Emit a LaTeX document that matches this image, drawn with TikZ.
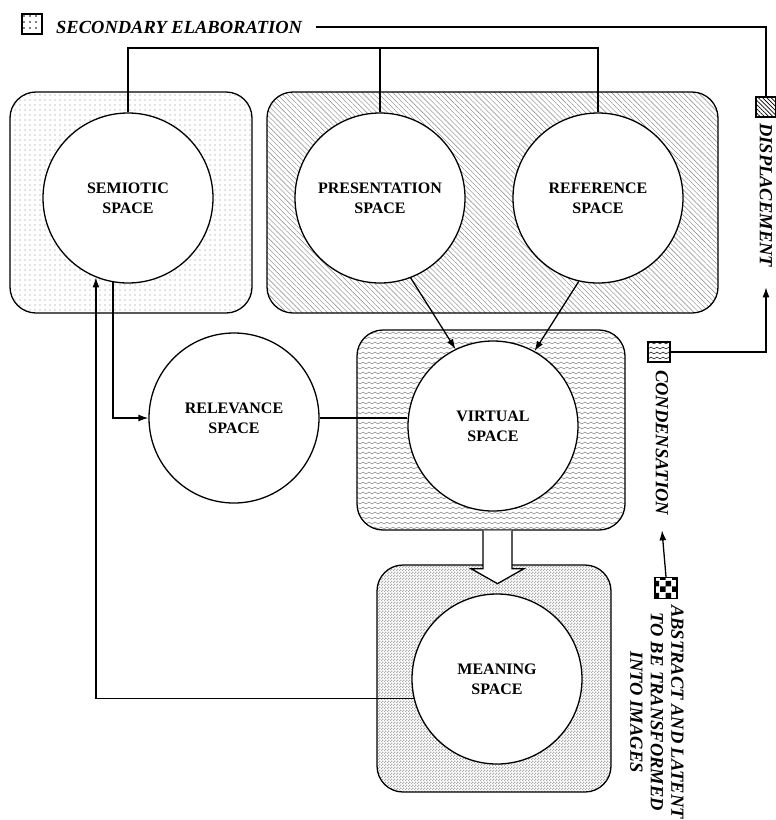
\documentclass[tikz,border=0pt]{standalone}
\usepackage{fontspec}
\setmainfont{Liberation Serif}
\usepackage{tikz}
\usetikzlibrary{arrows.meta}
\usetikzlibrary{patterns, patterns.meta, positioning}
\usetikzlibrary{calc}

% wavy fill for the condensation boxes
\pgfdeclarepatternformonly{waves}{\pgfqpoint{-1pt}{-1pt}}{\pgfqpoint{7pt}{6pt}}{\pgfqpoint{6pt}{5pt}}{
    \pgfsetlinewidth{0.45pt}
    \pgfpathmoveto{\pgfqpoint{0pt}{1pt}}
    \pgfpathcurveto{\pgfqpoint{1pt}{1pt}}{\pgfqpoint{2pt}{3pt}}{\pgfqpoint{3pt}{3pt}}
    \pgfpathcurveto{\pgfqpoint{4pt}{3pt}}{\pgfqpoint{5pt}{1pt}}{\pgfqpoint{6pt}{1pt}}
    \pgfusepath{stroke}
}
% fine checker for the meaning box
\pgfdeclarepatternformonly{finechecker}{\pgfpointorigin}{\pgfqpoint{3pt}{3pt}}{\pgfqpoint{3pt}{3pt}}{
    \pgfpathrectangle{\pgfpointorigin}{\pgfqpoint{1.5pt}{1.5pt}}
    \pgfpathrectangle{\pgfqpoint{1.5pt}{1.5pt}}{\pgfqpoint{1.5pt}{1.5pt}}
    \pgfusepath{fill}
}

\begin{document}
\begin{tikzpicture}[x=1pt,y=-1pt,
    space/.style={draw, circle, fill=white, line width=1.3pt, minimum size=170pt, inner sep=0pt, align=center, font=\bfseries\fontsize{16}{20}\selectfont},
    panel/.style={draw, rounded corners=26pt, line width=1.3pt, inner sep=0pt},
    legendbox/.style={draw, line width=1.2pt, minimum width=20pt, minimum height=20pt, inner sep=0pt},
    tag/.style={font=\bfseries\itshape\fontsize{18.5}{20.5}\selectfont, inner sep=0pt},
    link/.style={line width=1.3pt},
    arr/.style={-{Latex[length=10pt,width=7pt]}, line width=1.3pt}]

    \useasboundingbox (0,0) rectangle (776,820);

    % Panels behind the spaces
    \node[panel, pattern={Dots[distance=5pt,radius=0.55pt]}, pattern color=gray, minimum width=242pt, minimum height=221pt] (sembox) at (131,202.5) {};
    \node[panel, pattern={Lines[angle=-45,distance=3.6pt,line width=0.4pt]}, pattern color=gray, minimum width=451pt, minimum height=221pt] (prbox) at (492.5,202.5) {};
    \node[panel, pattern=waves, pattern color=gray, minimum width=268pt, minimum height=200pt] (virtbox) at (491,430) {};
    \node[panel, pattern=finechecker, pattern color=gray!65, minimum width=234pt, minimum height=227pt] (meanbox) at (494,678.5) {};

    % Spaces
    \node[space] (sem) at (128,198) {SEMIOTIC\\SPACE};
    \node[space] (pres) at (380,198) {PRESENTATION\\SPACE};
    \node[space] (ref) at (598,198) {REFERENCE\\SPACE};
    \node[space] (rel) at (234,418) {RELEVANCE\\SPACE};
    \node[space] (virt) at (493,426) {VIRTUAL\\SPACE};
    \node[space] (mean) at (497,679) {MEANING\\SPACE};

    % Bracket over the top spaces
    \coordinate (topbar) at (0,48);
    \draw[link] (sem.north) -- (sem.north |- topbar) -- (ref.north |- topbar) -- (ref.north);
    \draw[link] (pres.north) -- (pres.north |- topbar);

    % Connectors between spaces
    \draw[arr] (pres.-69) -- (virt.116);
    \draw[arr] (ref.-103) -- (virt.61);
    \draw[arr] (sem.-100) |- (rel.west);
    \draw[link] (rel.east) -- (rel.east -| virt.west);
    \draw[arr] (mean.193) -| (sem.-112);

    % Hollow arrow from virtual to meaning
    \coordinate (flow) at ($(virtbox.south)+(6.5,0)$);
    \draw[link, fill=white] ($(flow)+(-14.5,0)$) -- ++(0,38) -- ++(-12,0) -- ($(flow)+(0,53)$)
        -- ($(flow)+(26.5,38)$) -- ++(-12,0) -- ($(flow)+(14.5,0)$);

    % Legend
    \node[legendbox, pattern={Dots[distance=6pt,radius=0.8pt]}] (elabbox) at (32,24) {};
    \node[tag, anchor=west] (elab) at (56,27) {SECONDARY ELABORATION};
    \node[legendbox, pattern={Lines[angle=-45,distance=3pt,line width=0.7pt]}] (displbox) at (766,107) {};
    \node[tag, rotate=-90, anchor=west] (displ) at (766,123) {DISPLACEMENT};
    \node[legendbox, pattern=waves, minimum width=22pt] (condbox) at (659,352) {};
    \node[tag, rotate=-90, anchor=west] (cond) at (662,370) {CONDENSATION};
    \node[legendbox, pattern=checkerboard, minimum width=22pt, minimum height=21pt] (abbox) at (666,588) {};
    \node[tag, rotate=-90, align=center] (abstr) at (657,712) {ABSTRACT AND LATENT\\TO BE TRANSFORMED\\INTO IMAGES};

    \coordinate (displtip) at ($(displ.east)+(0,20)$);
    \coordinate (condtip) at ($(cond.east)+(0,15)$);
    \draw[link] ([xshift=14pt]elab.east) -| (displbox.north);
    \draw[arr] (condbox.east) -| (displtip);
    \draw[arr] (abbox.north) -- (condtip);
\end{tikzpicture}
\end{document}
